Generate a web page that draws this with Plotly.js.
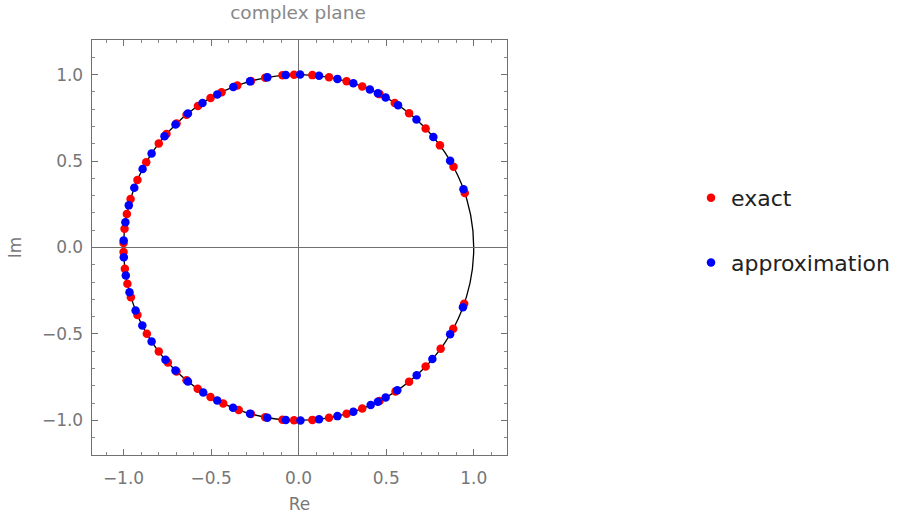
<!DOCTYPE html>
<html>
<head>
<meta charset="utf-8">
<script src="https://cdn.plot.ly/plotly-3.0.1.min.js"></script>
<style>html,body{margin:0;padding:0;background:#fff;}#chart{width:899px;height:527px;}</style>
</head>
<body>
<div id="chart"></div>
<script>
// Phases (degrees) of the points on the unit circle
var exactArgDeg = [18.4, 27.8, 36.2, 43.5, 50.9, 56.7, 62.5, 68.7, 74.1, 80.0, 85.5, 91.5, 95.3, 101.0, 105.8,
  110.5, 116.1, 120.2, 125.1, 129.8, 134.2, 139.0, 143.0, 150.5, 157.0, 163.7, 168.8, 173.8, 178.5,
  -19.0, -28.0, -35.8, -43.5, -50.9, -56.4, -62.5, -68.7, -74.1, -80.0, -85.5, -91.5, -95.3, -101.0, -105.8,
  -110.0, -115.5, -120.2, -125.2, -129.8, -134.2, -138.3, -143.0, -150.1, -157.0, -163.3, -167.9, -172.9, -178.5];
var approxArgDeg = [19.7, 30.1, 39.7, 47.7, 55.4, 60.2, 63.1, 66.0, 71.8, 77.2, 83.3, 89.5, 94.2, 100.3,
  106.1, 111.9, 117.7, 123.3, 129.2, 134.7, 140.0, 147.1, 153.0, 159.8, 165.9, 171.6, 177.7,
  -20.2, -30.1, -40.2, -47.6, -55.7, -60.2, -63.1, -65.7, -71.8, -77.2, -83.3, -89.4, -94.2, -100.3,
  -106.1, -112.0, -117.7, -123.0, -129.2, -134.7, -139.5, -147.1, -153.2, -158.6, -165.0, -170.7, -176.8];
var seriesNames = ["exact", "approximation"];
var xTicks = [-1.0, -0.5, 0.0, 0.5, 1.0];
var yTicks = [-1.0, -0.5, 0.0, 0.5, 1.0];
var tickText = ["\u22121.0", "\u22120.5", "0.0", "0.5", "1.0"];

function re(a) { return a.map(function (d) { return Math.cos(d * Math.PI / 180); }); }
function im(a) { return a.map(function (d) { return Math.sin(d * Math.PI / 180); }); }

var traces = [
  { type: "scatter", mode: "markers", name: seriesNames[0], legendgroup: "g1",
    x: re(exactArgDeg), y: im(exactArgDeg),
    marker: { color: "#ff0000", size: 8.5 } },
  { type: "scatter", mode: "markers", name: seriesNames[1], legendgroup: "g2",
    x: re(approxArgDeg), y: im(approxArgDeg),
    marker: { color: "#0000ff", size: 8.5 } }
];

var axisCommon = {
  showgrid: false,
  zeroline: true, zerolinecolor: "#707070", zerolinewidth: 1.6,
  showline: true, linecolor: "#707070", linewidth: 1.4, mirror: "allticks",
  ticks: "inside", ticklen: 6, tickwidth: 1, tickcolor: "#707070",
  minor: { dtick: 0.1, ticks: "inside", ticklen: 3, tickcolor: "#888", tickwidth: 1 },
  tickfont: { family: "DejaVu Sans", size: 17, color: "#777" },
  fixedrange: true
};

var layout = {
  width: 899, height: 527,
  margin: { l: 92, r: 392, t: 40, b: 72, autoexpand: false },
  paper_bgcolor: "#fff", plot_bgcolor: "#fff",
  showlegend: true,
  title: { text: "complex plane", font: { family: "DejaVu Sans", size: 18.5, color: "#888" },
           x: 298 / 899, xanchor: "center", y: 1 - 13 / 527, yanchor: "middle", yref: "container" },
  xaxis: Object.assign({}, axisCommon, {
    range: [-1.18, 1.19], tickvals: xTicks, ticktext: tickText, ticklabelstandoff: 7,
    title: { text: "Re", font: { family: "DejaVu Sans", size: 17, color: "#777" }, standoff: 11 }
  }),
  yaxis: Object.assign({}, axisCommon, {
    range: [-1.2, 1.2], tickvals: yTicks, ticktext: tickText, ticklabelstandoff: 4,
    title: { text: "Im", font: { family: "DejaVu Sans", size: 17, color: "#777" }, standoff: 16 }
  }),
  shapes: [
    { type: "circle", xref: "x", yref: "y", x0: -1, x1: 1, y0: -1, y1: 1,
      line: { color: "#000", width: 1.3 }, layer: "below" }
  ],
  legend: {
    x: (691 - 92) / 415, xanchor: "left", y: (455 - 177) / 415, yanchor: "top",
    font: { family: "DejaVu Sans", size: 22, color: "#222" },
    tracegroupgap: 33, bgcolor: "rgba(0,0,0,0)"
  }
};

Plotly.newPlot("chart", traces, layout, { staticPlot: true, displayModeBar: false });
</script>
</body>
</html>
